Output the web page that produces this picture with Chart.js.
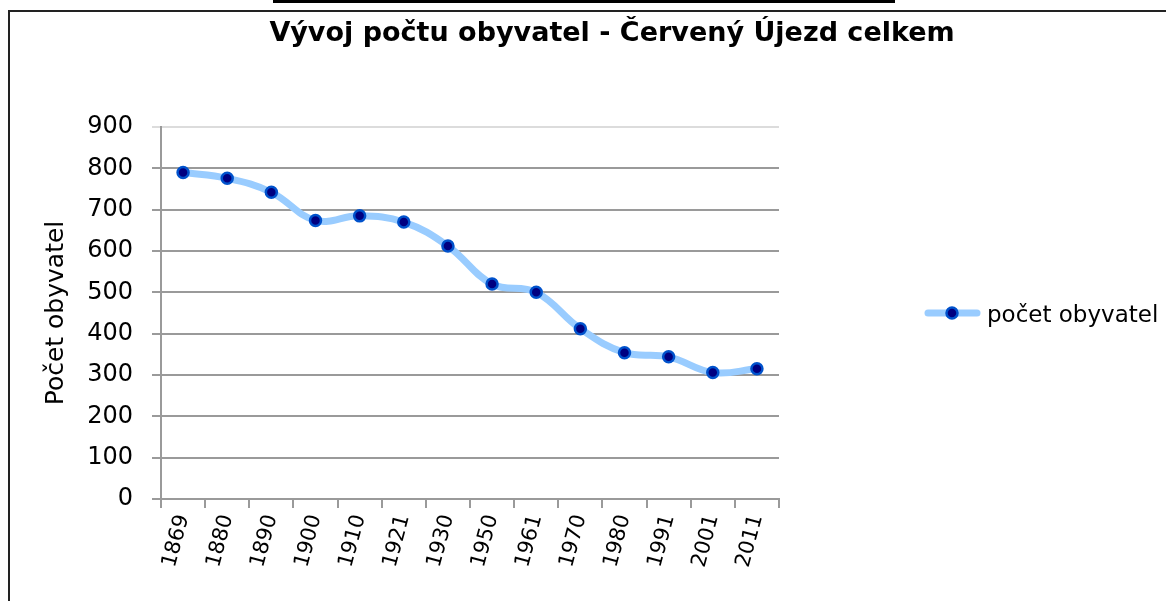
<!DOCTYPE html>
<html lang="cs">
<head>
    <meta charset="UTF-8">
    <title>Vývoj počtu obyvatel - Červený Újezd celkem</title>
    <style>
        body {
            margin: 0;
            background-color: #ffffff;
            overflow: hidden;
        }
        .wrap {
            position: relative;
            width: 1166px;
            height: 601px;
        }
        .frame {
            position: absolute;
            left: 8px;
            top: 10px;
            width: 1200px;
            height: 640px;
            border-left: 2px solid #222;
            border-top: 2px solid #222;
            pointer-events: none;
        }
        .topbar {
            position: absolute;
            left: 273px;
            top: 0;
            width: 622px;
            height: 3px;
            background-color: #000;
        }
        canvas {
            position: absolute;
            left: 0;
            top: 0;
        }
    </style>
    <script src="https://cdn.jsdelivr.net/npm/chart.js"></script>
</head>
<body>
    <div class="wrap">
        <canvas id="lineChart" width="1166" height="601"></canvas>
        <div class="frame"></div>
        <div class="topbar"></div>
    </div>
    <script>
        const roky = ['1869', '1880', '1890', '1900', '1910', '1921', '1930', '1950', '1961', '1970', '1980', '1991', '2001', '2011'];
        const obyvatele = [790, 776, 742, 674, 685, 670, 612, 520, 500, 412, 354, 344, 306, 315];
        const nazevGrafu = 'Vývoj počtu obyvatel - Červený Újezd celkem';
        const nazevRady = 'počet obyvatel';
        const nazevOsyY = 'Počet obyvatel';

        const barvaCary = '#99ccff';
        const barvaBodu = '#000080';
        const okrajBodu = '#0052cc';
        const sedaMrizka = '#9a9a9a';
        const pismo = "'DejaVu Sans', 'Liberation Sans', Arial, sans-serif";

        // nadpis a legenda se kreslí zvlášť, aby seděla pozice jako v Excelu
        const nadpisALegenda = {
            id: 'nadpisALegenda',
            afterDraw(chart) {
                const ctx = chart.ctx;
                ctx.save();
                ctx.fillStyle = '#000';
                ctx.font = 'bold 27px ' + pismo;
                ctx.textAlign = 'center';
                ctx.textBaseline = 'alphabetic';
                ctx.fillText(nazevGrafu, 612, 41);

                // legenda
                const y = 313;
                ctx.strokeStyle = barvaCary;
                ctx.lineWidth = 7;
                ctx.lineCap = 'round';
                ctx.beginPath();
                ctx.moveTo(928, y);
                ctx.lineTo(977, y);
                ctx.stroke();
                ctx.beginPath();
                ctx.arc(952, y, 5.5, 0, Math.PI * 2);
                ctx.fillStyle = barvaBodu;
                ctx.fill();
                ctx.lineWidth = 2.5;
                ctx.strokeStyle = okrajBodu;
                ctx.stroke();

                ctx.fillStyle = '#000';
                ctx.font = '23px ' + pismo;
                ctx.textAlign = 'left';
                ctx.fillText(nazevRady, 987, 322);
                ctx.restore();
            }
        };

        const data = {
            labels: roky,
            datasets: [{
                label: nazevRady,
                data: obyvatele,
                borderColor: barvaCary,
                borderWidth: 7,
                tension: 0.4,
                pointRadius: 5.5,
                pointBorderWidth: 2.5,
                pointBackgroundColor: barvaBodu,
                pointBorderColor: okrajBodu,
                fill: false
            }]
        };

        const config = {
            type: 'line',
            data: data,
            options: {
                responsive: false,
                animation: false,
                layout: {
                    padding: { left: 8, top: 127, right: 387, bottom: 0 }
                },
                plugins: {
                    legend: { display: false },
                    title: { display: false },
                    tooltip: { enabled: false }
                },
                scales: {
                    x: {
                        offset: true,
                        afterFit(scale) { scale.height = 102; },
                        grid: {
                            offset: true,
                            drawOnChartArea: false,
                            color: sedaMrizka,
                            lineWidth: 2,
                            tickLength: 9
                        },
                        border: { color: sedaMrizka, width: 2 },
                        ticks: {
                            color: '#000',
                            minRotation: 75,
                            maxRotation: 75,
                            padding: 4,
                            font: { family: pismo, size: 21 }
                        }
                    },
                    y: {
                        min: 0,
                        max: 900,
                        afterFit(scale) { scale.width = 153; },
                        grid: {
                            color: (c) => c.tick && c.tick.value === 900 ? '#dcdcdc' : sedaMrizka,
                            lineWidth: 2,
                            tickLength: 9
                        },
                        border: { color: sedaMrizka, width: 2 },
                        ticks: {
                            stepSize: 100,
                            color: '#000',
                            padding: 19,
                            font: { family: pismo, size: 24 }
                        },
                        title: {
                            display: true,
                            text: nazevOsyY,
                            color: '#000',
                            padding: { top: 33, bottom: 0 },
                            font: { family: pismo, size: 25 }
                        }
                    }
                }
            },
            plugins: [nadpisALegenda]
        };

        new Chart(document.getElementById('lineChart'), config);
    </script>
</body>
</html>
